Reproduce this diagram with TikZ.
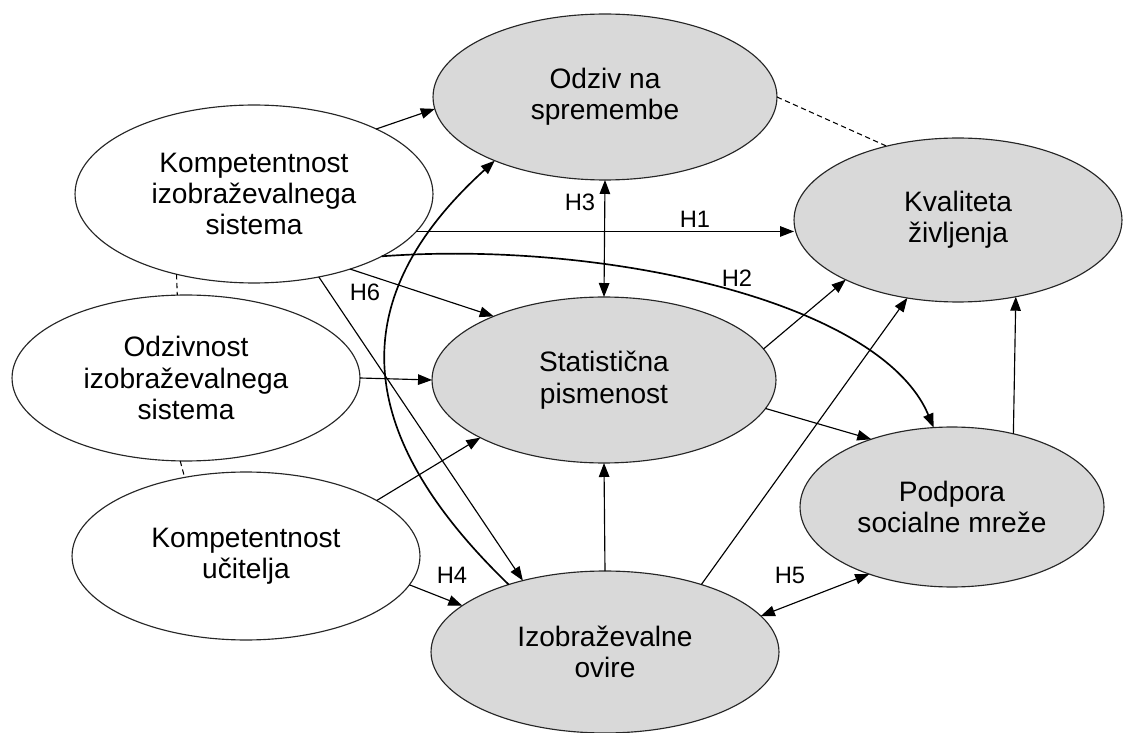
\documentclass[tikz,border=0pt]{standalone}
\usepackage{fontspec}
\setmainfont{Liberation Sans}
\usetikzlibrary{shapes.geometric,arrows.meta}
\definecolor{boxgray}{RGB}{217,217,217}
\begin{document}
\begin{tikzpicture}[x=0.02cm,y=-0.02cm,
  every node/.style={inner sep=0pt, outer sep=0pt},
  construct/.style={ellipse, draw=black!85, line width=0.65pt, align=center,
    font=\fontsize{16}{17.9}\selectfont},
  latent/.style={construct, fill=boxgray},
  manifest/.style={construct, fill=white},
  tip/.style={Triangle[length=0.28cm,width=0.21cm]},
  link/.style={line width=0.65pt, -{Triangle[length=0.28cm,width=0.21cm]}},
  bilink/.style={line width=0.65pt, {Triangle[length=0.28cm,width=0.21cm]}-{Triangle[length=0.28cm,width=0.21cm]}},
  bendlink/.style={line width=0.95pt, -{Triangle[length=0.28cm,width=0.21cm]}},
  corr/.style={line width=0.6pt, dash pattern=on 3pt off 2pt},
  hlabel/.style={font=\fontsize{13.5}{15}\selectfont}]
\useasboundingbox (0,0) rectangle (1137,733);

% constructs
\node[manifest, minimum width=7.16cm, minimum height=3.56cm] (kis) at (254,194) {Kompetentnost\\izobraževalnega\\sistema};
\node[manifest, minimum width=6.96cm, minimum height=3.32cm] (odz) at (186,378) {Odzivnost\\izobraževalnega\\sistema};
\node[manifest, minimum width=6.96cm, minimum height=3.36cm] (uci) at (246,556) {Kompetentnost\\učitelja};
\node[latent, minimum width=6.88cm, minimum height=3.32cm] (odziv) at (605,97) {Odziv na\\spremembe};
\node[latent, minimum width=6.56cm, minimum height=3.28cm] (kval) at (958,220) {Kvaliteta\\življenja};
\node[latent, minimum width=6.88cm, minimum height=3.32cm] (stat) at (604,380) {Statistična\\pismenost};
\node[latent, minimum width=6.08cm, minimum height=3.2cm] (pod) at (952,507) {Podpora\\socialne mreže};
\node[latent, minimum width=6.96cm, minimum height=3.24cm] (izob) at (605,652) {Izobraževalne\\ovire};

% correlations
\draw[corr] (kis.226) -- (odz.96);
\draw[corr] (odz.266) -- (uci.128);
\draw[corr] (odziv.east) -- (kval.134);

% paths
\draw[link] (kis.28) -- (odziv.184);
\draw[link] (kis.-13) -- (kis.-13 -| kval.west);
\draw[bendlink] (kis.-26) .. controls (600,240) and (880,300) .. (pod.103);
\draw[link] (kis.-38) -- (stat.150);
\draw[link] (kis.-52) -- (izob.139);
\draw[bilink] (odziv.south) -- (stat.north);
\draw[link] (odz.east) -- (stat.west);
\draw[link] (uci.23) -- (stat.205);
\draw[link] (uci.-10) -- (izob.162);
\draw[bendlink] (izob.145) .. controls (357,438) and (338,303) .. (odziv.210);
\draw[link] (izob.north) -- (stat.south);
\draw[link] (izob.35) -- (kval.237);
\draw[bilink] (izob.13) -- (pod.219);
\draw[link] (stat.11) -- (kval.208);
\draw[link] (stat.-10) -- (pod.140);
\draw[link] (pod.50) -- (kval.-53);

% hypothesis labels
\node[hlabel] (h1) at (695,219) {H1};
\node[hlabel] (h2) at (737,278) {H2};
\node[hlabel] (h3) at (580,202) {H3};
\node[hlabel] (h4) at (452,575) {H4};
\node[hlabel] (h5) at (790,575) {H5};
\node[hlabel] (h6) at (365,292) {H6};
\end{tikzpicture}
\end{document}
